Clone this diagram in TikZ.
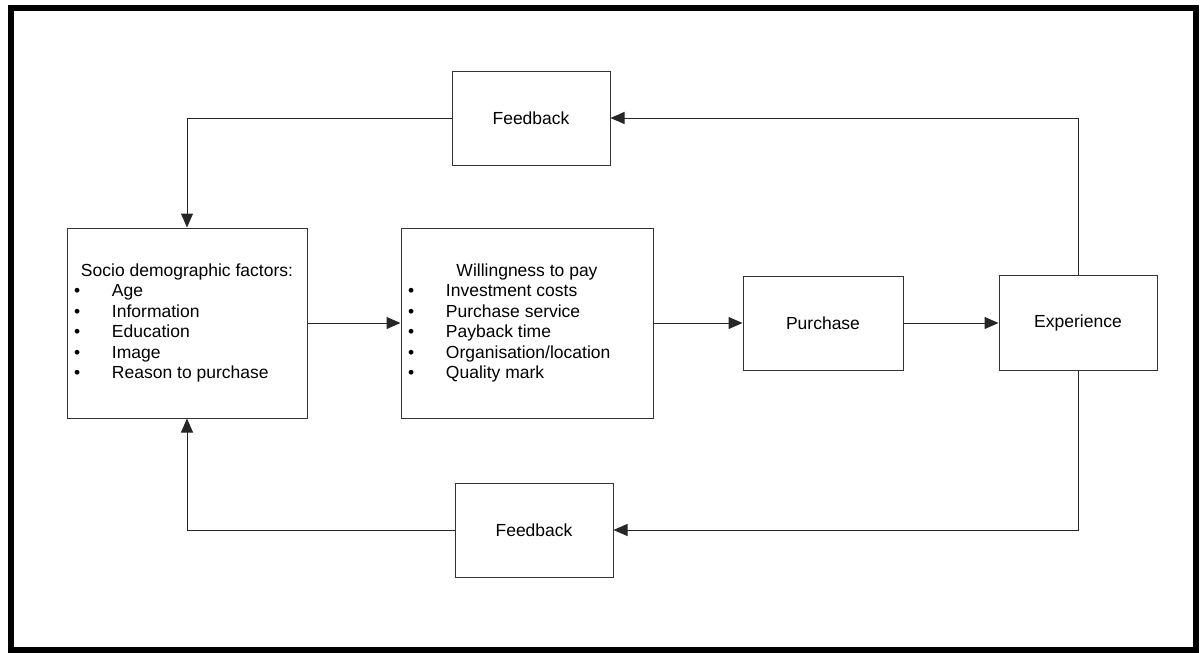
\documentclass[tikz,border=0pt]{standalone}
\usepackage{fontspec}
\setmainfont{Liberation Sans}
\usepackage{tikz}
\usetikzlibrary{arrows.meta,calc}
\tikzset{box/.style={draw=black!80,line width=1pt,fill=white,inner sep=0pt,align=center},
	conn/.style={draw=black!85,line width=1pt,-{Triangle[length=14pt,width=12pt]}}}
\newcommand{\bul}{\makebox[38pt][l]{\textbullet}}
\newcommand{\sz}{\fontsize{17.5}{20.5}\selectfont}

\begin{document}
\begin{tikzpicture}[x=1pt,y=-1pt,font=\sz]
				\useasboundingbox (0,0) rectangle (1200,653);
				\draw[line width=6pt] (10.5,7.5) rectangle (1195.5,649.5);
				\node[box,minimum width=158pt,minimum height=94pt] (fbTop) at (531,118) {Feedback};
				\node[box,minimum width=158pt,minimum height=94pt] (fbBot) at (534,530) {Feedback};
				\node[box,minimum width=240pt,minimum height=190pt] (socio) at (187,323) {\begin{minipage}{226pt}\sz
					\centering Socio demographic factors:\par\raggedright
					\bul Age\\ \bul Information\\ \bul Education\\ \bul Image\\ \bul Reason to purchase\end{minipage}};
				\node[box,minimum width=252pt,minimum height=190pt] (will) at (527,323) {\begin{minipage}{238pt}\sz
					\centering Willingness to pay\par\raggedright
					\bul Investment costs\\ \bul Purchase service\\ \bul Payback time\\ \bul Organisation/location\\ \bul Quality mark\end{minipage}};
				\node[box,minimum width=160pt,minimum height=94pt] (purch) at (823,323) {Purchase};
				\node[box,minimum width=158pt,minimum height=95pt] (exper) at (1078,323) {Experience};
				\draw[conn] (socio.east) -- (will.west);
				\draw[conn] (will.east) -- (purch.west);
				\draw[conn] (purch.east) -- (exper.west);
				\draw[conn] (exper.north) |- (fbTop.east);
				\draw[conn] (fbTop.west) -| (socio.north);
				\draw[conn] (exper.south) |- (fbBot.east);
				\draw[conn] (fbBot.west) -| (socio.south);
\end{tikzpicture}
\end{document}
